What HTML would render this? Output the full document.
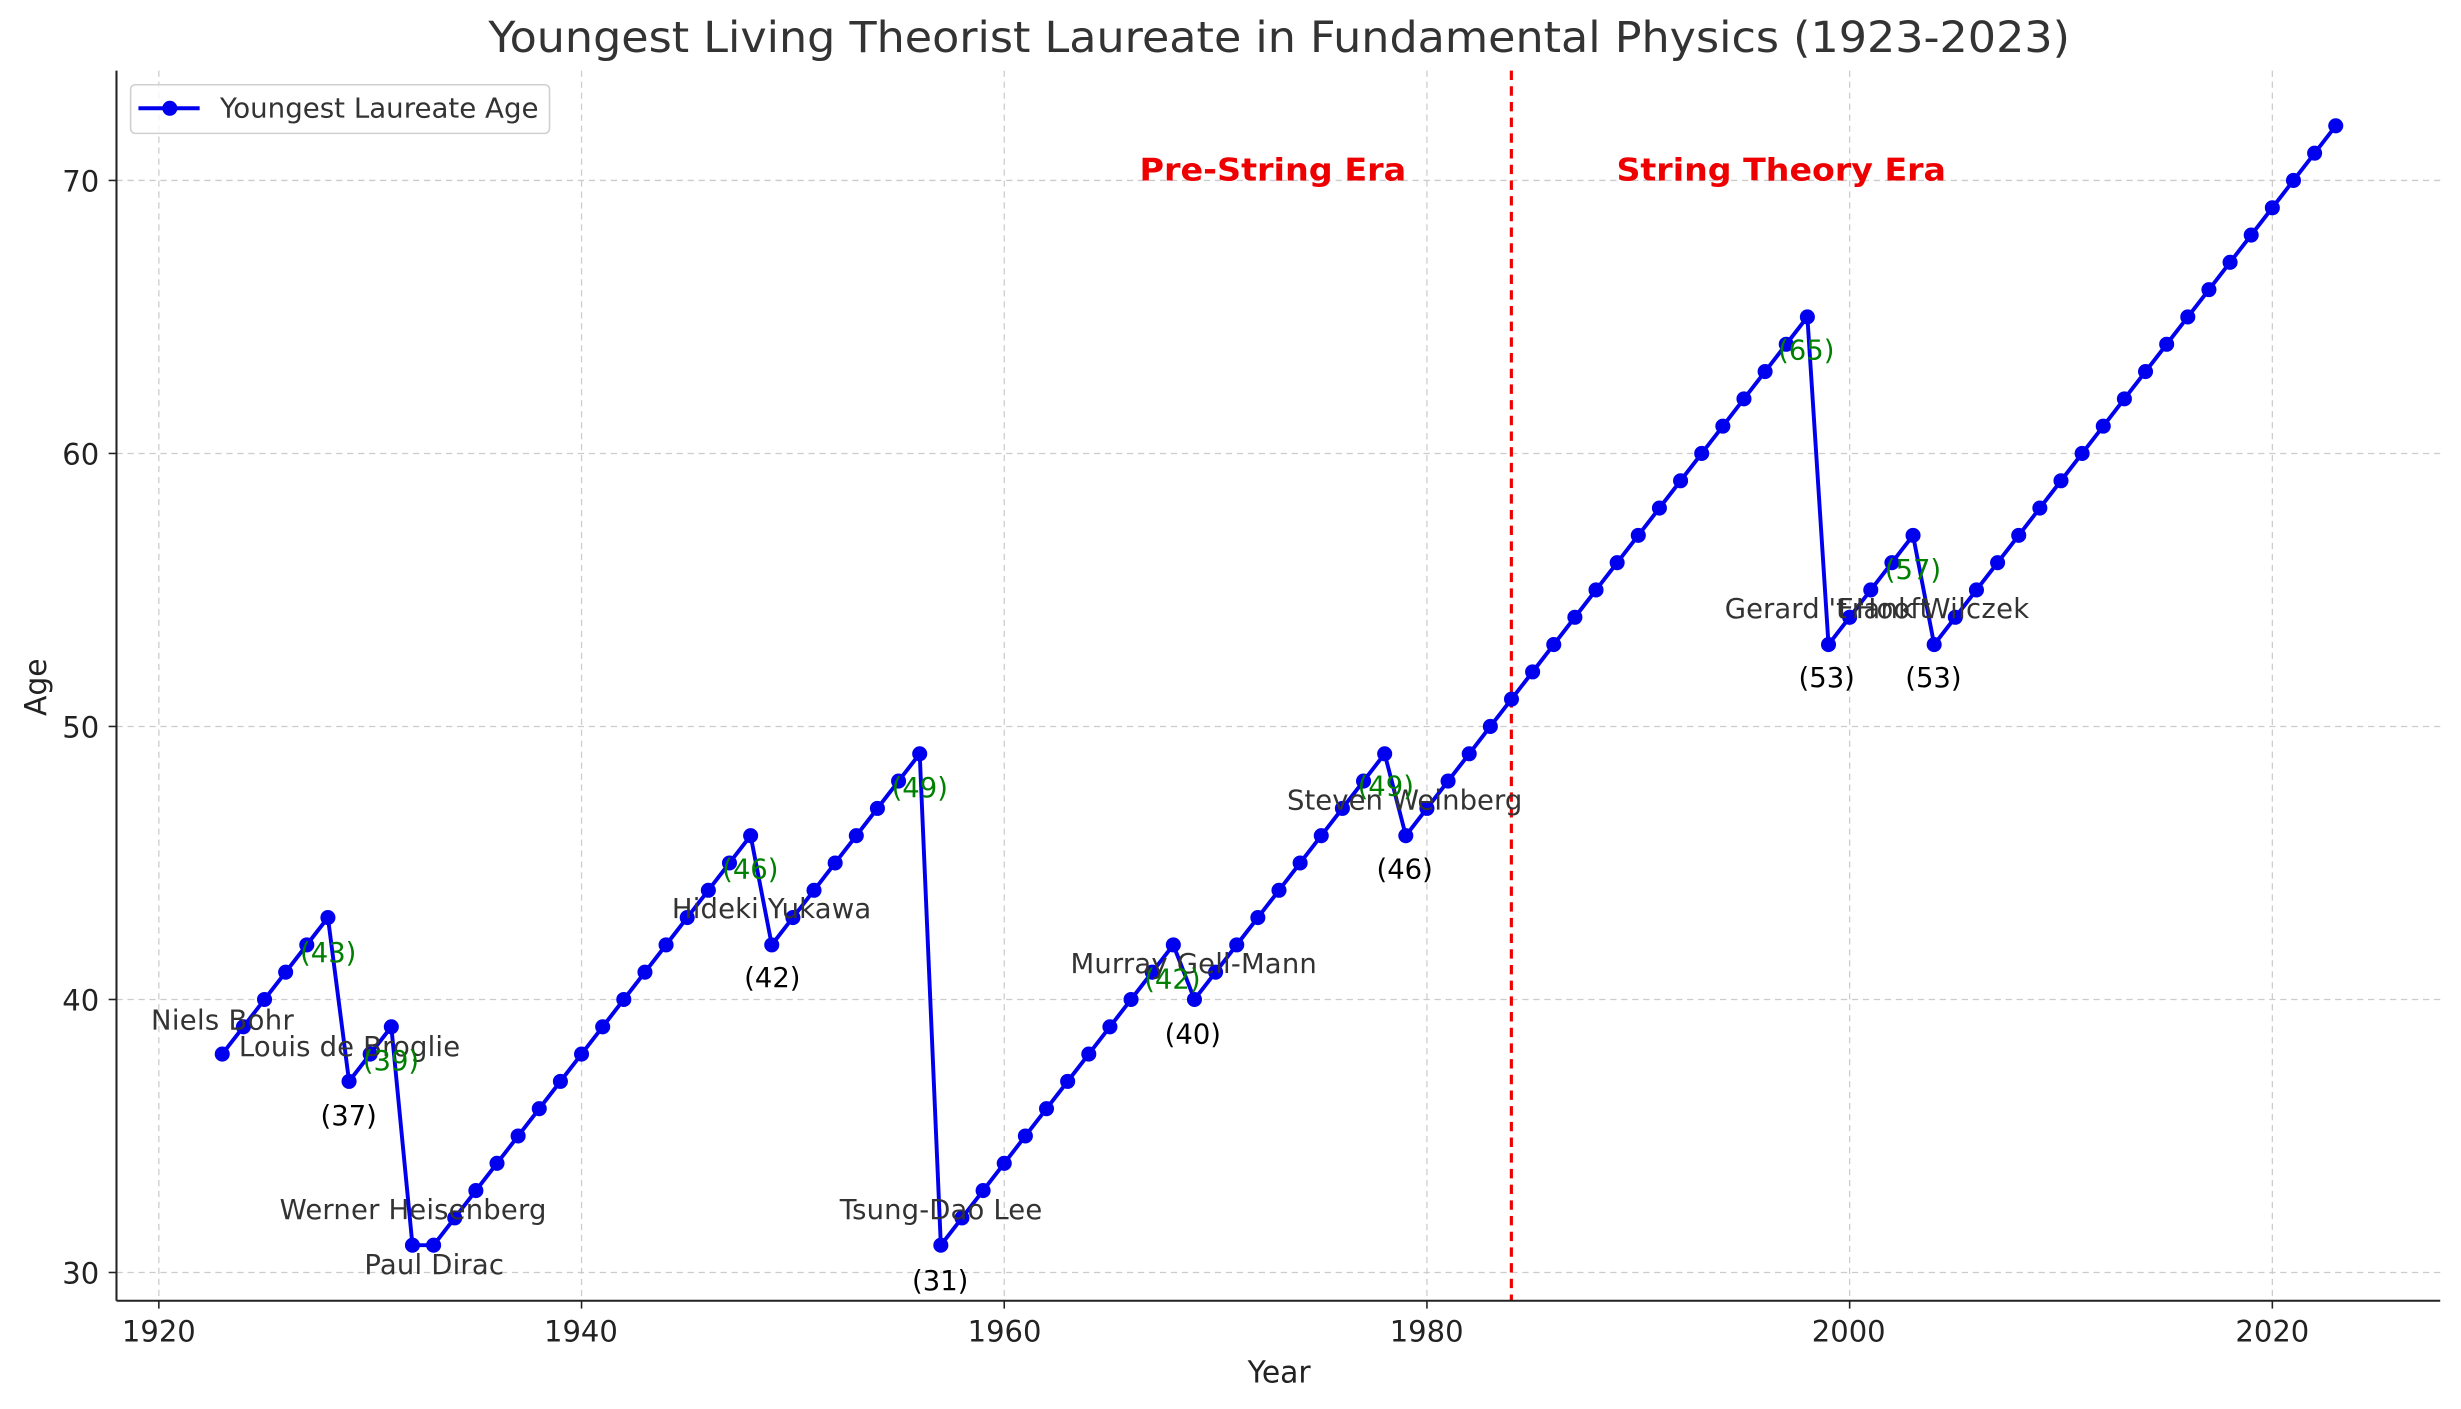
<!DOCTYPE html>
<html><head><meta charset="utf-8"><style>
html,body{margin:0;padding:0;background:#fff}
svg{display:block}
text{font-family:"DejaVu Sans","Liberation Sans",sans-serif}
</style></head><body>
<svg id="s" width="2461" height="1409" viewBox="0 0 1568 898" xmlns="http://www.w3.org/2000/svg">
<g id="grid" stroke="#cccccc" stroke-width="0.8" stroke-dasharray="4,3"></g>
<line x1="963" y1="45" x2="963" y2="829" stroke="#ee0000" stroke-width="2" stroke-dasharray="6,4"/>
<g id="data"></g>
<line x1="74" y1="45" x2="74" y2="829" stroke="#222" stroke-width="1.3"/>
<line x1="74" y1="829" x2="1555" y2="829" stroke="#222" stroke-width="1.3"/>
<g id="ticks" stroke="#222" stroke-width="1"></g>
<g font-size="18.5" fill="#222" text-anchor="middle">
<text x="101" y="855">1920</text><text x="370" y="855">1940</text><text x="640" y="855">1960</text>
<text x="909" y="855">1980</text><text x="1178" y="855">2000</text><text x="1448" y="855">2020</text>
</g>
<g font-size="18.5" fill="#222" text-anchor="end">
<text x="63" y="818">30</text><text x="63" y="644">40</text><text x="63" y="470">50</text>
<text x="63" y="296">60</text><text x="63" y="122">70</text>
</g>
<text x="815" y="881" font-size="19" fill="#222" text-anchor="middle">Year</text>
<text x="0" y="0" font-size="19" fill="#222" text-anchor="middle" transform="translate(29,438) rotate(-90)">Age</text>
<text x="815" y="33" font-size="27" fill="#333" text-anchor="middle" textLength="1008" lengthAdjust="spacingAndGlyphs">Youngest Living Theorist Laureate in Fundamental Physics (1923-2023)</text>
<g font-size="20" font-weight="bold" fill="#ee0000" text-anchor="middle">
<text x="811" y="115" textLength="170" lengthAdjust="spacingAndGlyphs">Pre-String Era</text><text x="1135" y="115" textLength="210" lengthAdjust="spacingAndGlyphs">String Theory Era</text>
</g>
<g font-size="17.5" fill="#333" lengthAdjust="spacingAndGlyphs">
<text x="96" y="656" textLength="91">Niels Bohr</text>
<text x="152" y="673" textLength="141">Louis de Broglie</text>
<text x="178" y="777" textLength="170">Werner Heisenberg</text>
<text x="232" y="812" textLength="89">Paul Dirac</text>
<text x="428" y="585" textLength="127">Hideki Yukawa</text>
<text x="535" y="777" textLength="129">Tsung-Dao Lee</text>
<text x="682" y="620" textLength="157">Murray Gell-Mann</text>
<text x="820" y="516" textLength="150">Steven Weinberg</text>
<text x="1099" y="394" textLength="131">Gerard 't Hooft</text>
<text x="1171" y="394" textLength="122">Frank Wilczek</text>
</g>
<g font-size="17.5" fill="#008000">
<text x="191" y="613">(43)</text><text x="231" y="682">(39)</text><text x="460" y="560">(46)</text>
<text x="568" y="508">(49)</text><text x="729" y="630">(42)</text><text x="865" y="507">(49)</text>
<text x="1133" y="229">(65)</text><text x="1201" y="369">(57)</text>
</g>
<g font-size="17.5" fill="#000" text-anchor="middle">
<text x="222" y="717">(37)</text><text x="492" y="629">(42)</text><text x="599" y="822">(31)</text>
<text x="760" y="665">(40)</text><text x="895" y="560">(46)</text><text x="1164" y="438">(53)</text>
<text x="1232" y="438">(53)</text>
</g>
<rect x="83" y="54" width="267" height="31" rx="3" fill="#fff" fill-opacity="0.8" stroke="#d0d0d0" stroke-width="1"/>
<line x1="88" y1="69" x2="127" y2="69" stroke="#0000ee" stroke-width="2.5"/>
<circle cx="108" cy="69" r="4.8" fill="#0000ee"/>
<text x="140" y="75" font-size="17.5" fill="#333" textLength="203" lengthAdjust="spacingAndGlyphs">Youngest Laureate Age</text>
</svg>
<script>
var X=function(y){return 101+(y-1920)*13.47},Y=function(v){return 811-(v-30)*17.4};
var ns="http://www.w3.org/2000/svg",g=document.getElementById("grid"),t=document.getElementById("ticks"),d=document.getElementById("data");
function el(p,n,a){var e=document.createElementNS(ns,n);for(var k in a)e.setAttribute(k,a[k]);p.appendChild(e);return e}
for(var yr=1920;yr<=2020;yr+=20){el(g,"line",{x1:X(yr),y1:45,x2:X(yr),y2:829});el(t,"line",{x1:X(yr),y1:829,x2:X(yr),y2:834})}
for(var v=30;v<=70;v+=10){el(g,"line",{x1:74,y1:Y(v),x2:1555,y2:Y(v)});el(t,"line",{x1:69,y1:Y(v),x2:74,y2:Y(v)})}
var a={},v=38;for(var y=1923;y<=2023;y++){if(y==1929)v=37;else if(y==1932)v=31;else if(y==1933)v=31;else if(y==1949)v=42;else if(y==1957)v=31;else if(y==1969)v=40;else if(y==1979)v=46;else if(y==1999)v=53;else if(y==2004)v=53;else if(y>1923)v++;a[y]=v}
var pts=[];for(var y=1923;y<=2023;y++)pts.push(X(y)+","+Y(a[y]));
el(d,"polyline",{points:pts.join(" "),fill:"none",stroke:"#0000ee","stroke-width":2.5});
for(var y=1923;y<=2023;y++)el(d,"circle",{cx:X(y),cy:Y(a[y]),r:4.8,fill:"#0000ee"});
</script>
</body></html>
